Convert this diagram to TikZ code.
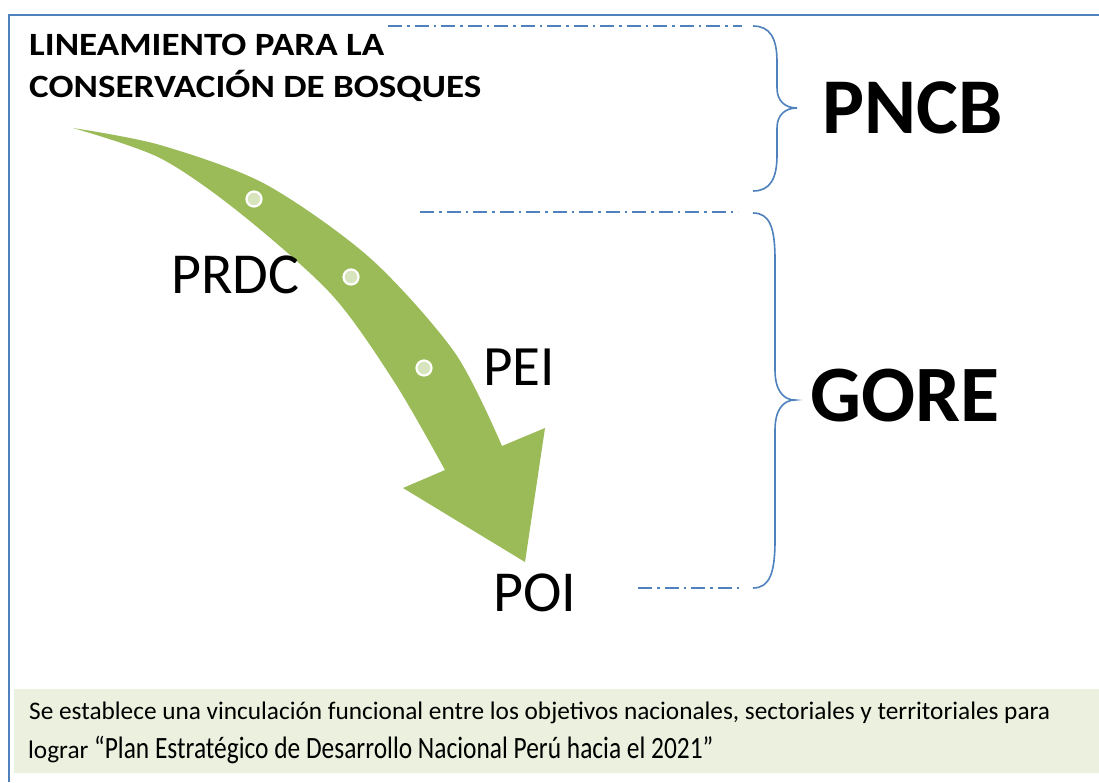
\documentclass[tikz,border=0pt]{standalone}
\usepackage{fontspec}
\setmainfont{Carlito}
\newfontfamily\widebold[FakeStretch=1.14]{Carlito}
\newfontfamily\narrowfont[FakeStretch=0.82]{Carlito}
\definecolor{frameblue}{HTML}{4F81BD}
\definecolor{arrowgreen}{HTML}{9BBB59}
\definecolor{notegreen}{HTML}{EBF1DE}
\definecolor{dotfill}{HTML}{D7E4BD}
\begin{document}
\begin{tikzpicture}[x=1pt,y=-1pt,
  txt/.style={inner sep=0pt, anchor=base west, text=black},
  frameline/.style={draw=frameblue, line width=2pt},
  dashdot/.style={draw=frameblue, line width=1.4pt, dash pattern=on 14pt off 5pt on 2.5pt off 5pt},
  bracestyle/.style={draw=frameblue, line width=1.6pt},
  dotstyle/.style={circle, fill=dotfill, draw=white, line width=2.2pt, minimum size=15pt, inner sep=0pt}]
\useasboundingbox (0,0) rectangle (1099,782);
\fill[white] (0,0) rectangle (1099,782);
\draw[frameline] (8.5,782) -- (8.5,14.5) -- (1099,14.5);
\fill[notegreen] (14,689) rectangle (1099,773);
% arrow
\fill[arrowgreen] plot[smooth] coordinates {(73,128) (160,145) (265,184) (370,258) (455,353) (502,446)}
  -- (545,428) -- (525,562) -- (403,488) -- (445,470)
  -- plot[smooth] coordinates {(445,470) (395,383) (332,295) (240,213) (160,158) (73,128)} -- cycle;
\node[dotstyle] (d1) at (254,199) {};
\node[dotstyle] (d2) at (351,277) {};
\node[dotstyle] (d3) at (424,368) {};
% texts
\node[txt, font=\widebold\bfseries\fontsize{32.5}{42}\selectfont] (title1) at (29,55) {LINEAMIENTO PARA LA};
\node[txt, font=\widebold\bfseries\fontsize{32.5}{42}\selectfont] (title2) at (29,97) {CONSERVACIÓN DE BOSQUES};
\node[txt, font=\bfseries\fontsize{79}{90}\selectfont] (pncb) at (822,133) {PNCB};
\node[txt, font=\bfseries\fontsize{80}{90}\selectfont] (gore) at (810,421) {GORE};
\node[txt, font=\fontsize{58}{60}\selectfont] (prdc) at (171,293) {PRDC};
\node[txt, font=\fontsize{57}{60}\selectfont] (pei) at (483,385) {PEI};
\node[txt, font=\fontsize{58}{60}\selectfont] (poi) at (493,611) {POI};
\node[txt, font=\fontsize{25.3}{28}\selectfont] (note1) at (29,719) {Se establece una vinculación funcional entre los objetivos nacionales, sectoriales y territoriales para};
\node[txt] (note2) at (28,758) {{\fontsize{25.3}{28}\selectfont lograr }{\narrowfont\fontsize{31}{34}\selectfont “Plan Estratégico de Desarrollo Nacional Perú hacia el 2021”}};
% dash-dot guide lines
\coordinate (l1a) at (388,26); \coordinate (l1b) at (742,26);
\coordinate (l2a) at (420,212); \coordinate (l2b) at (738,212);
\coordinate (l3a) at (638,588); \coordinate (l3b) at (743,588);
\draw[dashdot] (l1a) -- (l1b);
\draw[dashdot] (l2a) -- (l2b);
\draw[dashdot] (l3a) -- (l3b);
% braces
\coordinate (b1t) at (753,26); \coordinate (b1tip) at (797,108); \coordinate (b1b) at (753,191);
\coordinate (b2t) at (753,213); \coordinate (b2tip) at (795,400); \coordinate (b2b) at (753,588);
\draw[bracestyle] (b1t) .. controls (770,26) and (777,38) .. (777,62) -- (777,88)
  .. controls (777,101) and (785,108) .. (b1tip)
  .. controls (785,108) and (777,115) .. (777,128) -- (777,155)
  .. controls (777,179) and (770,191) .. (b1b);
\draw[bracestyle] (b2t) .. controls (770,213) and (775,228) .. (775,260) -- (775,370)
  .. controls (775,390) and (783,400) .. (b2tip)
  .. controls (783,400) and (775,410) .. (775,430) -- (775,540)
  .. controls (775,572) and (770,588) .. (b2b);
\end{tikzpicture}
\end{document}
